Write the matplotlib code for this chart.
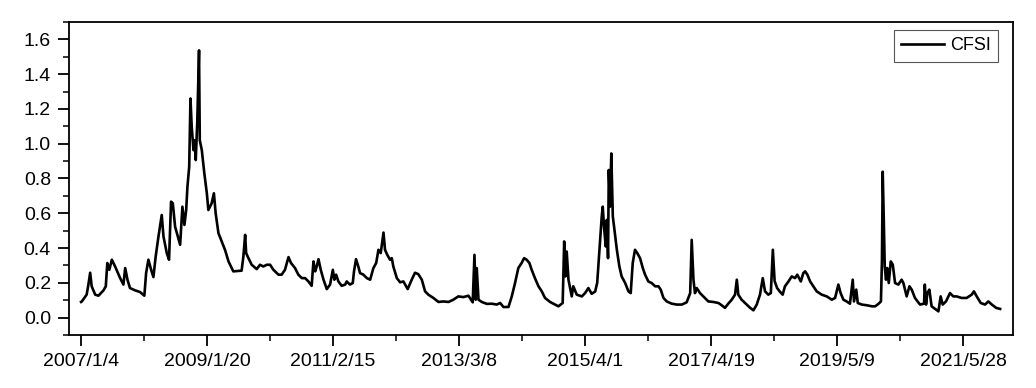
import matplotlib
matplotlib.use("Agg")
import matplotlib.pyplot as plt
from matplotlib.ticker import MultipleLocator

# trading-day index since 2007/1/4 and CFSI value
day_idx = [
    0, 3, 22, 29, 36, 42, 56, 69, 89, 98, 104, 112, 122, 135, 155, 168, 175, 184, 194, 214,
    234, 251, 258, 267, 278, 287, 296, 307, 320, 327, 340, 349, 357, 364, 373, 380, 393, 402, 410, 417,
    422, 429, 434, 439, 446, 450, 455, 461, 468, 471, 479, 489, 499, 505, 518, 527, 534, 545, 558, 571,
    585, 604, 637, 644, 651, 655, 664, 677, 697, 710, 723, 737, 750, 763, 783, 796, 809, 823, 833, 849,
    862, 876, 889, 902, 915, 922, 929, 935, 942, 951, 962, 975, 988, 999, 1005, 1012, 1021, 1034, 1048, 1054,
    1067, 1078, 1083, 1091, 1100, 1107, 1120, 1134, 1147, 1160, 1171, 1180, 1189, 1200, 1206, 1215, 1226, 1233, 1239, 1253,
    1266, 1279, 1296, 1312, 1325, 1338, 1352, 1365, 1378, 1398, 1418, 1438, 1458, 1477, 1497, 1517, 1537, 1554, 1561, 1566,
    1570, 1577, 1590, 1610, 1630, 1649, 1663, 1676, 1696, 1709, 1722, 1735, 1748, 1758, 1768, 1779, 1788, 1801, 1815, 1828,
    1841, 1861, 1881, 1894, 1911, 1917, 1922, 1927, 1934, 1947, 1953, 1967, 1987, 2000, 2013, 2026, 2040, 2048, 2057, 2066,
    2070, 2075, 2082, 2086, 2091, 2094, 2099, 2104, 2110, 2115, 2126, 2136, 2145, 2159, 2172, 2181, 2189, 2198, 2207, 2218,
    2229, 2238, 2251, 2264, 2278, 2291, 2300, 2311, 2324, 2344, 2364, 2384, 2403, 2417, 2423, 2430, 2436, 2443, 2456, 2469,
    2489, 2509, 2529, 2542, 2555, 2568, 2582, 2595, 2602, 2608, 2621, 2641, 2655, 2668, 2681, 2694, 2705, 2714, 2727, 2737,
    2745, 2752, 2762, 2772, 2784, 2793, 2807, 2820, 2833, 2842, 2856, 2866, 2873, 2882, 2893, 2906, 2919, 2939, 2959, 2979,
    2992, 3005, 3014, 3025, 3038, 3051, 3062, 3067, 3076, 3082, 3098, 3118, 3138, 3151, 3164, 3174, 3178, 3181, 3185, 3189,
    3194, 3199, 3205, 3213, 3221, 3230, 3243, 3256, 3263, 3276, 3287, 3296, 3309, 3329, 3345, 3348, 3353, 3358, 3366, 3375,
    3389, 3402, 3411, 3419, 3432, 3448, 3461, 3474, 3494, 3514, 3534, 3543, 3554, 3570, 3587, 3600, 3614, 3631, 3647,
]
cfsi = [
    0.090, 0.093, 0.132, 0.190, 0.258, 0.180, 0.132, 0.126, 0.157, 0.180, 0.314, 0.275, 0.333, 0.294, 0.227, 0.190, 0.285, 0.218, 0.170, 0.157,
    0.147, 0.126, 0.256, 0.333, 0.275, 0.233, 0.352, 0.466, 0.590, 0.466, 0.371, 0.333, 0.667, 0.657, 0.523, 0.486, 0.419, 0.638, 0.533, 0.619,
    0.753, 0.868, 1.260, 1.097, 0.963, 1.020, 0.906, 1.126, 1.537, 1.020, 0.963, 0.830, 0.715, 0.619, 0.657, 0.715, 0.600, 0.486, 0.438, 0.390,
    0.323, 0.266, 0.270, 0.352, 0.476, 0.371, 0.342, 0.304, 0.279, 0.304, 0.294, 0.304, 0.304, 0.275, 0.247, 0.247, 0.275, 0.348, 0.314, 0.285,
    0.247, 0.227, 0.227, 0.208, 0.183, 0.323, 0.266, 0.294, 0.336, 0.275, 0.218, 0.164, 0.190, 0.275, 0.218, 0.247, 0.208, 0.183, 0.190, 0.208,
    0.190, 0.199, 0.266, 0.336, 0.294, 0.256, 0.247, 0.227, 0.218, 0.285, 0.314, 0.390, 0.371, 0.489, 0.390, 0.361, 0.333, 0.342, 0.294, 0.227,
    0.203, 0.208, 0.164, 0.218, 0.258, 0.250, 0.218, 0.151, 0.132, 0.113, 0.090, 0.093, 0.090, 0.103, 0.122, 0.118, 0.126, 0.088, 0.361, 0.103,
    0.285, 0.103, 0.090, 0.079, 0.080, 0.075, 0.084, 0.061, 0.061, 0.122, 0.199, 0.285, 0.314, 0.342, 0.333, 0.314, 0.275, 0.227, 0.180, 0.151,
    0.113, 0.090, 0.075, 0.065, 0.084, 0.438, 0.237, 0.380, 0.218, 0.122, 0.180, 0.132, 0.122, 0.141, 0.170, 0.137, 0.150, 0.200, 0.390, 0.581,
    0.638, 0.523, 0.409, 0.562, 0.342, 0.849, 0.638, 0.944, 0.581, 0.523, 0.390, 0.294, 0.237, 0.199, 0.151, 0.141, 0.314, 0.390, 0.371, 0.342,
    0.285, 0.247, 0.208, 0.199, 0.180, 0.180, 0.161, 0.113, 0.093, 0.080, 0.075, 0.075, 0.088, 0.141, 0.447, 0.218, 0.141, 0.170, 0.141, 0.122,
    0.093, 0.090, 0.084, 0.071, 0.056, 0.080, 0.103, 0.132, 0.218, 0.132, 0.103, 0.075, 0.056, 0.042, 0.075, 0.132, 0.227, 0.151, 0.132, 0.141,
    0.390, 0.210, 0.170, 0.151, 0.132, 0.180, 0.208, 0.237, 0.227, 0.247, 0.208, 0.256, 0.266, 0.247, 0.208, 0.180, 0.151, 0.132, 0.122, 0.103,
    0.113, 0.190, 0.141, 0.103, 0.093, 0.080, 0.218, 0.093, 0.161, 0.084, 0.075, 0.071, 0.065, 0.065, 0.079, 0.093, 0.333, 0.839, 0.581, 0.294,
    0.218, 0.285, 0.199, 0.323, 0.304, 0.199, 0.190, 0.218, 0.199, 0.122, 0.180, 0.161, 0.113, 0.075, 0.080, 0.190, 0.075, 0.141, 0.161, 0.065,
    0.050, 0.036, 0.122, 0.075, 0.093, 0.141, 0.122, 0.122, 0.113, 0.113, 0.132, 0.151, 0.122, 0.084, 0.075, 0.093, 0.075, 0.056, 0.050,
]

tick_pos = [0, 500, 1000, 1500, 2000, 2500, 3000, 3500]
tick_labels = ["2007/1/4", "2009/1/20", "2011/2/15", "2013/3/8",
               "2015/4/1", "2017/4/19", "2019/5/9", "2021/5/28"]

plt.rcParams["font.family"] = ["Liberation Sans", "DejaVu Sans"]

fig = plt.figure(figsize=(10.36, 3.88), dpi=100)
ax = fig.add_axes([0.0666, 0.1366, 0.9112, 0.8067])

ax.plot(day_idx, cfsi, color="black", lw=1.9, label="CFSI")

ax.set_xlim(-48, 3698)
ax.set_ylim(-0.1, 1.7)
ax.set_xticks(tick_pos)
ax.set_xticklabels(tick_labels)
ax.xaxis.set_minor_locator(MultipleLocator(250))
ax.set_yticks([0.0, 0.2, 0.4, 0.6, 0.8, 1.0, 1.2, 1.4, 1.6])
ax.yaxis.set_major_formatter(matplotlib.ticker.FormatStrFormatter("%.1f"))
ax.yaxis.set_minor_locator(MultipleLocator(0.1))

ax.tick_params(which="major", direction="out", length=8, width=1.3, labelsize=14, pad=5)
ax.tick_params(which="minor", direction="out", length=4.5, width=1.1)
ax.tick_params(axis="x", which="both", top=False)
ax.tick_params(axis="y", which="both", right=False)
for s in ax.spines.values():
    s.set_linewidth(1.3)

leg = ax.legend(loc="upper right", bbox_to_anchor=(0.984, 0.974), borderaxespad=0,
                fontsize=13, handlelength=2.4, handletextpad=0.3,
                fancybox=False, framealpha=1, borderpad=0.4)
leg.get_frame().set_edgecolor("#555555")
leg.get_frame().set_linewidth(0.8)

plt.savefig("out.png", dpi=100)
plt.close()
